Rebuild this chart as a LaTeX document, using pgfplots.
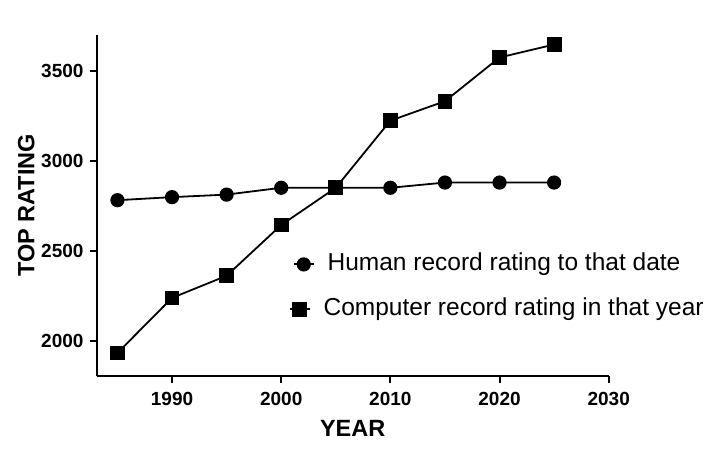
\documentclass[border=0pt]{standalone}
\usepackage{fontspec}
\setmainfont{Liberation Sans}
\usepackage{pgfplots}
\pgfplotsset{compat=1.18}
\pgfplotsset{
  legA/.code={\pgfplotsset{legend image code/.code={
    \draw[overlay, line width=1.8bp, ##1] (0bp,0bp) -- (20bp,0bp);
    \draw[overlay, ##1, only marks] plot coordinates {(10bp,0bp)};
    \path (0bp,-6.5bp) (33bp,6.5bp);}}},
  legB/.code={\pgfplotsset{legend image code/.code={
    \draw[overlay, line width=1.8bp, ##1] (-4bp,0bp) -- (16bp,0bp);
    \draw[overlay, ##1, only marks] plot coordinates {(6bp,0bp)};
    \path (0bp,-6.5bp) (33bp,6.5bp);}}},
}
\begin{document}
\begin{tikzpicture}
\begin{axis}[
  name=ax,
  scale only axis,
  width=512bp, height=341bp,
  xmin=1983.1, xmax=2030,
  ymin=1805, ymax=3700,
  axis lines=left,
  axis line style={line width=2bp, -},
  xtick={1990,2000,2010,2020,2030},
  ytick={2000,2500,3000,3500},
  tick align=outside,
  tick pos=left,
  major tick length=7bp,
  tick style={line width=2bp, black},
  /pgf/number format/assume math mode=true,
  /pgf/number format/1000 sep={},
  tick label style={font=\fontsize{19bp}{21bp}\selectfont\bfseries},
  yticklabel style={inner xsep=1bp, xshift=-5bp},
  xticklabel style={inner ysep=1bp, yshift=-8bp},
  xlabel={YEAR},
  ylabel={TOP RATING},
  label style={font=\fontsize{23.5bp}{26bp}\selectfont\bfseries},
  xlabel style={yshift=-10bp},
  ylabel style={yshift=2bp},
  legend style={draw=none, fill=none, at={(axis cs:2001.05,2493)}, anchor=north west,
    font=\fontsize{24.5bp}{29bp}\selectfont, row sep=21bp, inner sep=0pt,
    nodes={inner sep=0pt, text height=18bp, text depth=6bp},
    column sep=0bp},
  legend cell align=left,
  clip=false,
]
\addplot[black, line width=1.8bp, mark=*, mark size=6.2bp, mark options={solid, fill=black}, legA]
  coordinates {(1985,2782) (1990,2799) (1995,2813) (2000,2851) (2005,2851) (2010,2851) (2015,2880) (2020,2880) (2025,2880)};
\addlegendentry{Human record rating to that date}
\addplot[black, line width=1.8bp, mark=square*, mark size=6.5bp, mark options={solid, fill=black}, legB]
  coordinates {(1985,1933) (1990,2239) (1995,2362) (2000,2644) (2005,2851) (2010,3224) (2015,3332) (2020,3575) (2025,3647)};
\addlegendentry{\hspace*{-4bp}Computer record rating in that year}
\end{axis}
\pgfresetboundingbox
\path (ax.south west) ++(-96.7bp,-80bp) rectangle ++(720bp,456bp);
\end{tikzpicture}
\end{document}
